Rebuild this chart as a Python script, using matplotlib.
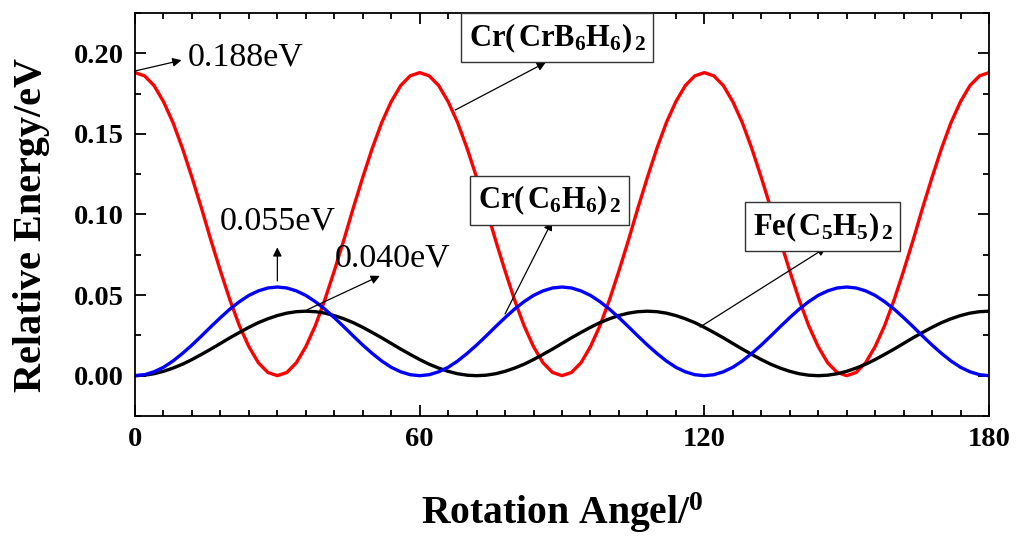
import matplotlib
matplotlib.use('Agg')
from matplotlib import pyplot as plt
from matplotlib.ticker import MultipleLocator, FormatStrFormatter

plt.rcParams['font.family'] = 'Liberation Serif'
plt.rcParams['mathtext.fontset'] = 'custom'
plt.rcParams['mathtext.rm'] = 'Liberation Serif'
plt.rcParams['mathtext.bf'] = 'Liberation Serif:bold'
plt.rcParams['mathtext.it'] = 'Liberation Serif:italic'

# rotation angle (deg), read every 2 degrees
angle = list(range(0, 181, 2))

# Cr(CrB6H6)2
cr_crb6h6 = [0.188, 0.186, 0.180, 0.170, 0.157, 0.141, 0.123, 0.104, 0.084, 0.065,
             0.047, 0.031, 0.018, 0.008, 0.002, 0.000, 0.002, 0.008, 0.018, 0.031,
             0.047, 0.065, 0.084, 0.104, 0.123, 0.141, 0.157, 0.170, 0.180, 0.186,
             0.188, 0.186, 0.180, 0.170, 0.157, 0.141, 0.123, 0.104, 0.084, 0.065,
             0.047, 0.031, 0.018, 0.008, 0.002, 0.000, 0.002, 0.008, 0.018, 0.031,
             0.047, 0.065, 0.084, 0.104, 0.123, 0.141, 0.157, 0.170, 0.180, 0.186,
             0.188, 0.186, 0.180, 0.170, 0.157, 0.141, 0.123, 0.104, 0.084, 0.065,
             0.047, 0.031, 0.018, 0.008, 0.002, 0.000, 0.002, 0.008, 0.018, 0.031,
             0.047, 0.065, 0.084, 0.104, 0.123, 0.141, 0.157, 0.170, 0.180, 0.186,
             0.188]

# Cr(C6H6)2
cr_c6h6 = [0.0000, 0.0006, 0.0024, 0.0052, 0.0091, 0.0138, 0.0190, 0.0246, 0.0304, 0.0360,
           0.0413, 0.0459, 0.0498, 0.0526, 0.0544, 0.0550, 0.0544, 0.0526, 0.0498, 0.0459,
           0.0413, 0.0360, 0.0304, 0.0246, 0.0190, 0.0138, 0.0091, 0.0052, 0.0024, 0.0006,
           0.0000, 0.0006, 0.0024, 0.0052, 0.0091, 0.0138, 0.0190, 0.0246, 0.0304, 0.0360,
           0.0413, 0.0459, 0.0498, 0.0526, 0.0544, 0.0550, 0.0544, 0.0526, 0.0498, 0.0459,
           0.0413, 0.0360, 0.0304, 0.0246, 0.0190, 0.0138, 0.0091, 0.0052, 0.0024, 0.0006,
           0.0000, 0.0006, 0.0024, 0.0052, 0.0091, 0.0138, 0.0190, 0.0246, 0.0304, 0.0360,
           0.0413, 0.0459, 0.0498, 0.0526, 0.0544, 0.0550, 0.0544, 0.0526, 0.0498, 0.0459,
           0.0413, 0.0360, 0.0304, 0.0246, 0.0190, 0.0138, 0.0091, 0.0052, 0.0024, 0.0006,
           0.0000]

# Fe(C5H5)2
fe_c5h5 = [0.0000, 0.0003, 0.0012, 0.0027, 0.0047, 0.0071, 0.0100, 0.0132, 0.0165, 0.0200,
           0.0235, 0.0268, 0.0300, 0.0329, 0.0353, 0.0373, 0.0388, 0.0397, 0.0400, 0.0397,
           0.0388, 0.0373, 0.0353, 0.0329, 0.0300, 0.0268, 0.0235, 0.0200, 0.0165, 0.0132,
           0.0100, 0.0071, 0.0047, 0.0027, 0.0012, 0.0003,
           0.0000, 0.0003, 0.0012, 0.0027, 0.0047, 0.0071, 0.0100, 0.0132, 0.0165, 0.0200,
           0.0235, 0.0268, 0.0300, 0.0329, 0.0353, 0.0373, 0.0388, 0.0397, 0.0400, 0.0397,
           0.0388, 0.0373, 0.0353, 0.0329, 0.0300, 0.0268, 0.0235, 0.0200, 0.0165, 0.0132,
           0.0100, 0.0071, 0.0047, 0.0027, 0.0012, 0.0003,
           0.0000, 0.0003, 0.0012, 0.0027, 0.0047, 0.0071, 0.0100, 0.0132, 0.0165, 0.0200,
           0.0235, 0.0268, 0.0300, 0.0329, 0.0353, 0.0373, 0.0388, 0.0397, 0.0400]

fig = plt.figure(figsize=(10.16, 5.41), dpi=100)
ax = fig.add_axes([0.1329, 0.2311, 0.8405, 0.7449])

ax.plot(angle, cr_crb6h6, color='red', lw=2.4, solid_joinstyle='round')
ax.plot(angle, fe_c5h5, color='black', lw=2.4, solid_joinstyle='round')
ax.plot(angle, cr_c6h6, color='blue', lw=2.4, solid_joinstyle='round')

ax.set_xlim(0, 180)
ax.set_ylim(-0.025, 0.225)
ax.xaxis.set_major_locator(MultipleLocator(60))
ax.xaxis.set_minor_locator(MultipleLocator(6))
ax.yaxis.set_major_locator(MultipleLocator(0.05))
ax.yaxis.set_minor_locator(MultipleLocator(0.025))
ax.yaxis.set_major_formatter(FormatStrFormatter('%.2f'))
ax.tick_params(which='both', direction='in', top=True, right=True, width=1.3)
ax.tick_params(which='major', length=8, labelsize=20.5, pad=8)
ax.tick_params(which='minor', length=4)
for lab in ax.get_xticklabels() + ax.get_yticklabels():
    lab.set_fontweight('bold')
for sp in ax.spines.values():
    sp.set_linewidth(1.3)

ax.set_xlabel(r'Rotation Angel/$^\mathbf{0}$', fontsize=28.5, fontweight='bold', labelpad=28)
ax.set_ylabel('Relative Energy/eV', fontsize=29, fontweight='bold')
ax.yaxis.set_label_coords(-0.099, 0.474)

arrow = dict(arrowstyle='-|>', color='black', lw=0.9, mutation_scale=13, shrinkA=0, shrinkB=0)
box = dict(boxstyle='square,pad=0.25', facecolor='white', edgecolor='#333333', lw=1)

# energy barrier labels
ax.annotate('', xy=(9.8, 0.1957), xytext=(0, 0.189), arrowprops=arrow)
ax.text(11.2, 0.1975, '0.188eV', fontsize=24.5, ha='left', va='center')
ax.annotate('', xy=(30.0, 0.0796), xytext=(30.0, 0.0588), arrowprops=arrow)
ax.text(30.1, 0.0957, '0.055eV', fontsize=24.5, ha='center', va='center')
ax.annotate('', xy=(51.6, 0.0619), xytext=(36.3, 0.0409), arrowprops=arrow)
ax.text(42.2, 0.0731, '0.040eV', fontsize=24.5, ha='left', va='center')

# molecule labels
ax.annotate('', xy=(86.6, 0.1944), xytext=(67.5, 0.1648), arrowprops=arrow)
ax.text(89.0, 0.2096, r'$\mathbf{Cr(\,CrB_6H_6)_{\,2}}$', fontsize=22,
        ha='center', va='center', bbox=box, zorder=5)
ax.annotate('', xy=(87.9, 0.0957), xytext=(78.0, 0.0383), arrowprops=arrow)
ax.text(87.4, 0.1086, r'$\mathbf{Cr(\,C_6H_6)_{\,2}}$', fontsize=22,
        ha='center', va='center', bbox=box, zorder=5)
ax.annotate('', xy=(145.7, 0.0796), xytext=(119.1, 0.0302), arrowprops=arrow)
ax.text(145.0, 0.0923, r'$\mathbf{Fe(\,C_5H_5)_{\,2}}$', fontsize=22,
        ha='center', va='center', bbox=box, zorder=5)

fig.savefig('out.png', dpi=100)
